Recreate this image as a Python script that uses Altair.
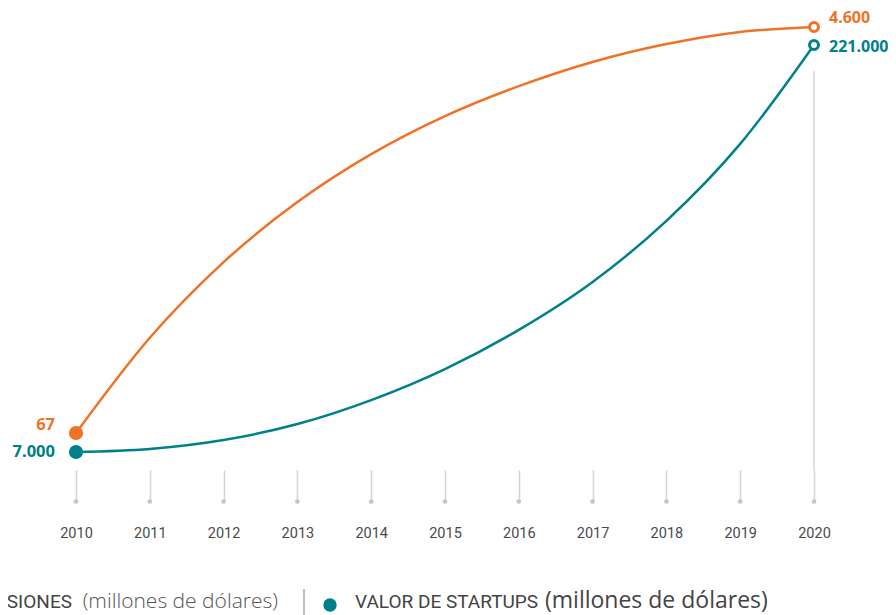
import altair as alt
import pandas as pd

# ---------------- data ----------------
years = [2010, 2011, 2012, 2013, 2014, 2015, 2016, 2017, 2018, 2019, 2020]
inversiones = [67, 1130, 1975, 2645, 3180, 3605, 3940, 4210, 4410, 4545, 4600]
valor_startups = [7000, 8600, 13300, 21700, 34300, 50600, 71200, 96400, 128500, 169000, 221000]
series_names = ["INVERSIONES", "VALOR DE STARTUPS"]
unit_text = "(millones de dólares)"
highlight_year = [2020]

ORANGE = "#EE7326"
TEAL = "#00808A"
W, H = 738, 462
SANS = "Roboto"


def fmt(v):
    return f"{v:,}".replace(",", ".")


x_enc = alt.X(
    "year:Q",
    scale=alt.Scale(domain=[2010, 2020], nice=False, zero=False),
    axis=alt.Axis(
        values=years, format="d", title=None, domain=False, grid=False,
        ticks=True, tickSize=30, tickWidth=1.5, tickColor="#d3d3d8",
        labelFont=SANS, labelFontSize=14.5, labelColor="#4a4a4a",
        labelPadding=37, labelBaseline="alphabetic",
        labelFlush=False, labelOverlap=False,
    ),
)


def series_chart(values, color, domain, s_dx, s_dy, e_dx, e_dy):
    df = pd.DataFrame({"year": years, "value": values})
    y_enc = alt.Y("value:Q", scale=alt.Scale(domain=domain, nice=False, zero=False), axis=None)
    first = df.iloc[[0]].assign(label=fmt(values[0]))
    last = df.iloc[[-1]].assign(label=fmt(values[-1]))
    line = alt.Chart(df).mark_line(color=color, strokeWidth=2.5, interpolate="monotone").encode(x=x_enc, y=y_enc)
    start_pt = alt.Chart(first).mark_circle(color=color, size=200, opacity=1).encode(x=x_enc, y=y_enc)
    end_pt = alt.Chart(last).mark_point(
        shape="circle", filled=False, fill="white", fillOpacity=1,
        stroke=color, strokeWidth=3, size=80, opacity=1,
    ).encode(x=x_enc, y=y_enc)
    s_lbl = alt.Chart(first).mark_text(
        align="right", baseline="alphabetic", dx=s_dx, dy=s_dy,
        font="Open Sans", fontWeight="bold", fontSize=16.5, color=color,
    ).encode(x=x_enc, y=y_enc, text="label:N")
    e_lbl = alt.Chart(last).mark_text(
        align="left", baseline="alphabetic", dx=e_dx, dy=e_dy,
        font="Open Sans", fontWeight="bold", fontSize=16, color=color,
    ).encode(x=x_enc, y=y_enc, text="label:N")
    return alt.layer(line, start_pt, end_pt, s_lbl, e_lbl)


orange_layer = series_chart(inversiones, ORANGE, [-346.1, 4812.1], -21, -3, 15, -4)
teal_layer = series_chart(valor_startups, TEAL, [-2464, 240454], -21, 5, 15, 7)

# vertical guide at 2020 and tick dots
stem = alt.Chart(pd.DataFrame({"year": highlight_year})).mark_rule(
    color="#d4d4d8", strokeWidth=1.5
).encode(x=x_enc, y=alt.value(63), y2=alt.value(H))

tick_dots = alt.Chart(pd.DataFrame({"year": years})).mark_circle(
    color="#c4c4ca", size=22, opacity=1
).encode(x=x_enc, y=alt.value(H + 31.5))

# ---------------- legend (bottom) ----------------
leg_y = 600
name_left = alt.Chart(pd.DataFrame({"t": [series_names[0]]})).mark_text(
    align="right", baseline="alphabetic", font=SANS, fontSize=19, color="#444444"
).encode(x=alt.value(-4), y=alt.value(leg_y), text="t:N")
unit_left = alt.Chart(pd.DataFrame({"t": [unit_text]})).mark_text(
    align="right", baseline="alphabetic", font="Open Sans", fontWeight=300, fontSize=21, color="#555555"
).encode(x=alt.value(202), y=alt.value(leg_y), text="t:N")
dot_left = alt.Chart(pd.DataFrame({"c": [ORANGE]})).mark_circle(
    color=ORANGE, size=180, opacity=1
).encode(x=alt.value(-95), y=alt.value(597))
sep = alt.Chart(pd.DataFrame({"s": [1]})).mark_rule(color="#aaaaaa", strokeWidth=1.5).encode(
    x=alt.value(228), y=alt.value(581), y2=alt.value(607)
)
dot_right = alt.Chart(pd.DataFrame({"c": [TEAL]})).mark_circle(
    color=TEAL, size=180, opacity=1
).encode(x=alt.value(254), y=alt.value(597))
name_right = alt.Chart(pd.DataFrame({"t": [series_names[1]]})).mark_text(
    align="left", baseline="alphabetic", font=SANS, fontSize=19, color="#444444"
).encode(x=alt.value(279), y=alt.value(leg_y), text="t:N")
unit_right = alt.Chart(pd.DataFrame({"t": [unit_text]})).mark_text(
    align="left", baseline="alphabetic", font="Open Sans", fontSize=23, color="#444444"
).encode(x=alt.value(469), y=alt.value(leg_y), text="t:N")

chart = alt.layer(
    stem, tick_dots, orange_layer, teal_layer,
    name_left, unit_left, dot_left, sep, dot_right, name_right, unit_right,
).resolve_scale(y="independent").properties(
    width=W, height=H,
    autosize=alt.AutoSizeParams(type="none"),
    padding={"left": 68, "top": 0, "right": 74, "bottom": 145},
    background="white",
).configure_view(stroke=None)

chart.save("out.html", embed_options={"renderer": "svg", "actions": False})
